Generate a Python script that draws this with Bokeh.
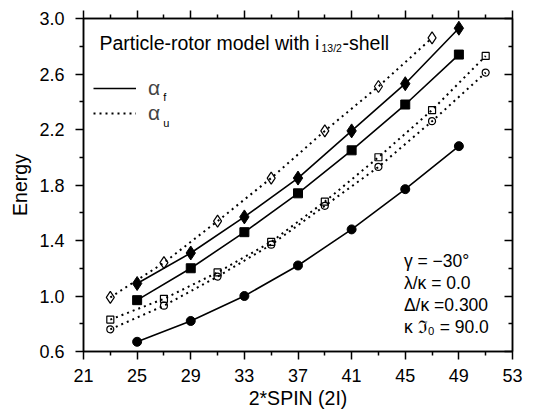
from bokeh.plotting import figure
from bokeh.models import (FixedTicker, LinearAxis, Range1d, Legend, LegendItem,
                          Label, CustomJSTickFormatter)
from bokeh.embed import file_html
from bokeh.resources import INLINE

# ---------------- data ----------------
spin_f = [25, 29, 33, 37, 41, 45, 49]
e_f_diamond = [1.09, 1.31, 1.57, 1.85, 2.19, 2.53, 2.93]
e_f_square = [0.97, 1.20, 1.46, 1.74, 2.05, 2.38, 2.74]
e_f_circle = [0.67, 0.82, 1.00, 1.22, 1.48, 1.77, 2.08]

spin_u_diamond = [23, 27, 31, 35, 39, 43, 47]
e_u_diamond = [0.99, 1.24, 1.54, 1.85, 2.19, 2.51, 2.86]
spin_u = [23, 27, 31, 35, 39, 43, 47, 51]
e_u_square = [0.83, 0.98, 1.17, 1.39, 1.68, 2.00, 2.34, 2.73]
e_u_circle = [0.76, 0.93, 1.14, 1.37, 1.65, 1.93, 2.26, 2.61]

x_ticks = [21, 25, 29, 33, 37, 41, 45, 49, 53]
x_minor = [23, 27, 31, 35, 39, 43, 47, 51]
y_ticks = [0.6, 1.0, 1.4, 1.8, 2.2, 2.6, 3.0]
y_tick_labels = ["0.6", "1.0", "1.4", "1.8", "2.2", "2.6", "3.0"]
y_minor = [0.8, 1.2, 1.6, 2.0, 2.4, 2.8]

title_main = "Particle-rotor model with i"
title_sub = "13/2"
title_end = "-shell"
params = ["\u03b3 = \u221230\u00b0", "\u03bb/\u03ba = 0.0", "\u0394/\u03ba =0.300", "\u03ba \u2111\u2080 = 90.0"]

FONT = "Liberation Sans"

p = figure(width=530, height=411, output_backend="svg", toolbar_location=None,
           x_range=Range1d(21, 53), y_range=Range1d(0.6, 3.0),
           min_border_left=83, min_border_right=18, min_border_top=18, min_border_bottom=59)
p.xgrid.visible = False
p.ygrid.visible = False
p.outline_line_color = "black"
p.outline_line_width = 1.5

xt = FixedTicker(ticks=x_ticks, minor_ticks=x_minor)
yt = FixedTicker(ticks=y_ticks, minor_ticks=y_minor)

def style(ax):
    ax.axis_line_color = "black"
    ax.axis_line_width = 1.5
    ax.major_tick_line_color = "black"
    ax.major_tick_line_width = 1.5
    ax.minor_tick_line_color = "black"
    ax.minor_tick_line_width = 1.5
    ax.major_label_text_font = FONT
    ax.major_label_text_color = "black"
    ax.axis_label_text_font = FONT
    ax.axis_label_text_font_style = "normal"
    ax.axis_label_text_color = "black"

xa = p.xaxis[0]
xa.ticker = xt
style(xa)
xa.major_tick_out = 8
xa.major_tick_in = 0
xa.minor_tick_out = 4
xa.minor_tick_in = 0
xa.major_label_text_font_size = "18px"
xa.major_label_standoff = 9
xa.axis_label = "2*SPIN (2I)"
xa.axis_label_text_font_size = "19.5px"
xa.axis_label_standoff = 2

ya = p.yaxis[0]
ya.ticker = yt
style(ya)
ya.major_tick_out = 8
ya.major_tick_in = 0
ya.minor_tick_out = 4
ya.minor_tick_in = 0
ya.major_label_text_font_size = "18px"
ya.major_label_standoff = 11
ya.major_label_overrides = {v: s for v, s in zip(y_ticks, y_tick_labels)}
ya.axis_label = "Energy"
ya.axis_label_text_font_size = "19.5px"
ya.axis_label_standoff = 5

blank = CustomJSTickFormatter(code="return ''")
top = LinearAxis(ticker=xt, formatter=blank)
style(top)
top.major_tick_out = 8
top.major_tick_in = 0
top.minor_tick_out = 4
top.minor_tick_in = 0
top.major_label_text_font_size = "1px"
top.major_label_standoff = 0
p.add_layout(top, "above")

right = LinearAxis(ticker=yt, formatter=blank)
style(right)
right.major_tick_out = 0
right.major_tick_in = 8
right.minor_tick_out = 0
right.minor_tick_in = 4
right.major_label_text_font_size = "1px"
right.major_label_standoff = 0
p.add_layout(right, "right")

# ---------------- series ----------------
solid_kw = dict(line_color="black", line_width=1.6)
dot_kw = dict(line_color="black", line_width=2, line_dash="2 4")

r_u1 = p.line(spin_u_diamond, e_u_diamond, **dot_kw)
p.line(spin_u, e_u_square, **dot_kw)
p.line(spin_u, e_u_circle, **dot_kw)
r_f1 = p.line(spin_f, e_f_diamond, **solid_kw)
p.line(spin_f, e_f_square, **solid_kw)
p.line(spin_f, e_f_circle, **solid_kw)

p.scatter(spin_f, e_f_diamond, marker="diamond", size=14, color="black")
p.scatter(spin_f, e_f_square, marker="square", size=9, color="black")
p.scatter(spin_f, e_f_circle, marker="circle", size=9, color="black")

p.scatter(spin_u_diamond, e_u_diamond, marker="diamond", size=12, fill_color=None,
          line_color="black", line_width=1.2)
p.scatter(spin_u, e_u_square, marker="square", size=7, fill_color=None,
          line_color="black", line_width=1.2)
p.scatter(spin_u, e_u_circle, marker="circle", size=7, fill_color=None,
          line_color="black", line_width=1.2)

# ---------------- legend ----------------
legend = Legend(items=[LegendItem(label="\u03b1", renderers=[r_f1]),
                       LegendItem(label="\u03b1", renderers=[r_u1])],
                location=(10, 226), background_fill_alpha=0, border_line_color=None,
                label_text_font=FONT, label_text_font_size="21px",
                glyph_width=43, glyph_height=20, label_height=20, spacing=1,
                padding=0, margin=0, label_standoff=12)
p.add_layout(legend)

sub_kw = dict(text_font=FONT, text_font_size="11px", text_color="black",
              text_baseline="alphabetic")
p.add_layout(Label(x=26.95, y=2.432, text="f", **sub_kw))
p.add_layout(Label(x=26.95, y=2.25, text="u", **sub_kw))

# ---------------- title text ----------------
tx, ty = 22.19, 2.82
p.add_layout(Label(x=tx, y=ty, text=title_main, text_font=FONT, text_baseline="alphabetic",
                   text_font_size="19.5px", text_color="black"))
p.add_layout(Label(x=tx, y=ty, text=title_sub, x_offset=222, y_offset=-4.5,
                   text_font=FONT, text_font_size="10.5px", text_color="black",
                   text_baseline="alphabetic"))
p.add_layout(Label(x=tx, y=ty, text=title_end, x_offset=243, text_baseline="alphabetic",
                   text_font=FONT, text_font_size="19.5px", text_color="black"))

# ---------------- parameter box ----------------
for i, s in enumerate(params):
    p.add_layout(Label(x=44.9, y=0.78, text=s, y_offset=66 - 22 * i,
                       text_font=FONT, text_font_size="17.5px", text_color="black",
                       text_baseline="alphabetic"))

open("out.html", "w").write(file_html(p, INLINE))
